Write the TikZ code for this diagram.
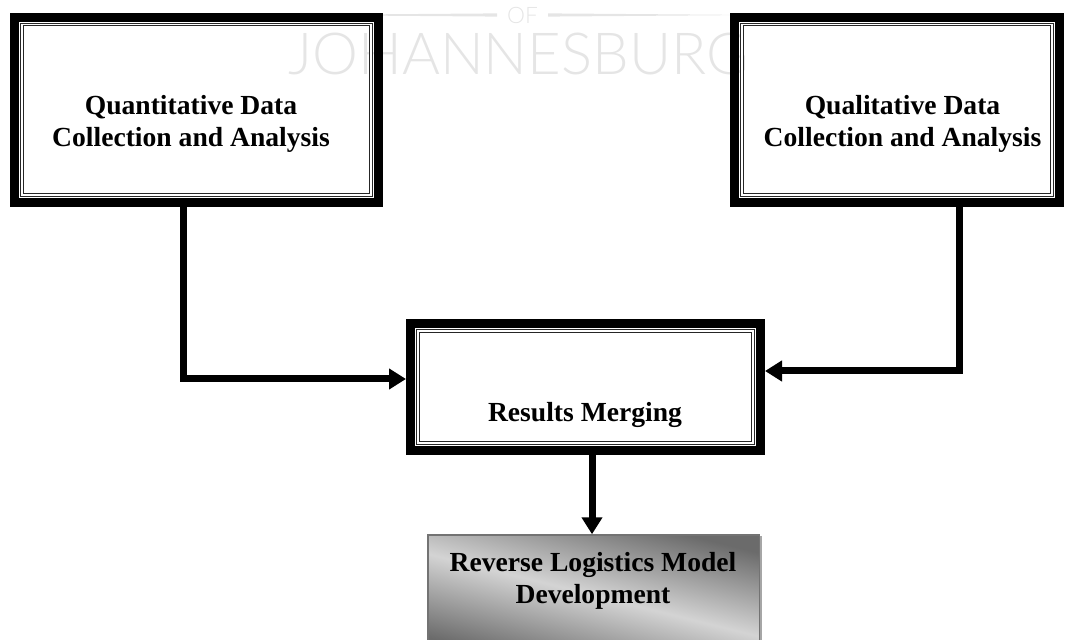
\documentclass[tikz,border=0pt]{standalone}
\usepackage{fontspec}
\setmainfont{Liberation Serif}
\newfontfamily\wmfont{Lato Light}
\usetikzlibrary{arrows.meta,shadows}

\begin{document}
\begin{tikzpicture}[x=0.75pt,y=0.75pt,
  heavybox/.style={draw=black, line width=6.75pt, inner sep=0pt},
  thinframe/.style={draw=black!85, line width=0.8pt, double=white, double distance=1.1pt},
  label/.style={font=\bfseries\fontsize{20.7}{24}\selectfont, align=center, inner sep=0pt, anchor=base},
  conn/.style={draw=black, line width=5.25pt, -{Triangle[length=12.75pt,width=15pt]}},
  finalbox/.style={draw=black!55, line width=1.1pt, inner sep=0pt,
    shading=axis, top color=black!58, bottom color=black!58, middle color=black!17,
    shading angle=-14,
    drop shadow={shadow xshift=2.2pt, shadow yshift=-0.6pt, fill=black!50, opacity=0.7}},
  wm/.style={text=black!10, inner sep=0pt}
]
\useasboundingbox (0,0) rectangle (1067,639);
\clip (0,0) rectangle (1067,639);

% faint watermark lettering behind the chart
\node[wm, font=\wmfont\fontsize{43.5}{50}\selectfont, anchor=base west] (jhb) at (288,564) {JOHANNESBURG};
\node[wm, font=\wmfont\fontsize{17}{20}\selectfont, anchor=base] (of) at (522.5,615) {OF};
\fill[black!10] (290,624) -- (497,625.6) -- (497,622.4) -- cycle;
\fill[black!10] (548,625.6) -- (753,624) -- (548,622.4) -- cycle;

% framed boxes
\node[heavybox, minimum width=273pt, minimum height=139.1pt] (quan) at (196.5,529.2) {};
\node[heavybox, minimum width=243.75pt, minimum height=139.1pt] (qual) at (897,529.2) {};
\node[heavybox, minimum width=262.5pt, minimum height=95.25pt] (merge) at (585.5,252) {};
\foreach \b in {quan,qual,merge}
  \draw[thinframe] ([shift={(12,12)}]\b.south west) rectangle ([shift={(-12,-12)}]\b.north east);

\node[finalbox, minimum width=248.6pt, minimum height=90pt] (model) at (593.5,44) {};

% box texts (anchored on the baseline of the last line)
\node[label] (quantxt) at (191,492) {Quantitative Data\\Collection and Analysis};
\node[label] (qualtxt) at (902.5,492) {Qualitative Data\\Collection and Analysis};
\node[label] (mergetxt) at (585,217) {Results Merging};
\node[label] (modeltxt) at (593,36) {Reverse Logistics Model\\Development};

% connectors
\coordinate (lx) at (183,260);
\coordinate (rx) at (959,268);
\coordinate (bx) at (592,0);
\draw[conn] (quan.south -| lx) |- (lx -| merge.west);
\draw[conn] (qual.south -| rx) |- (rx -| merge.east);
\draw[conn] (merge.south -| bx) -- (bx |- model.north);
\end{tikzpicture}
\end{document}
